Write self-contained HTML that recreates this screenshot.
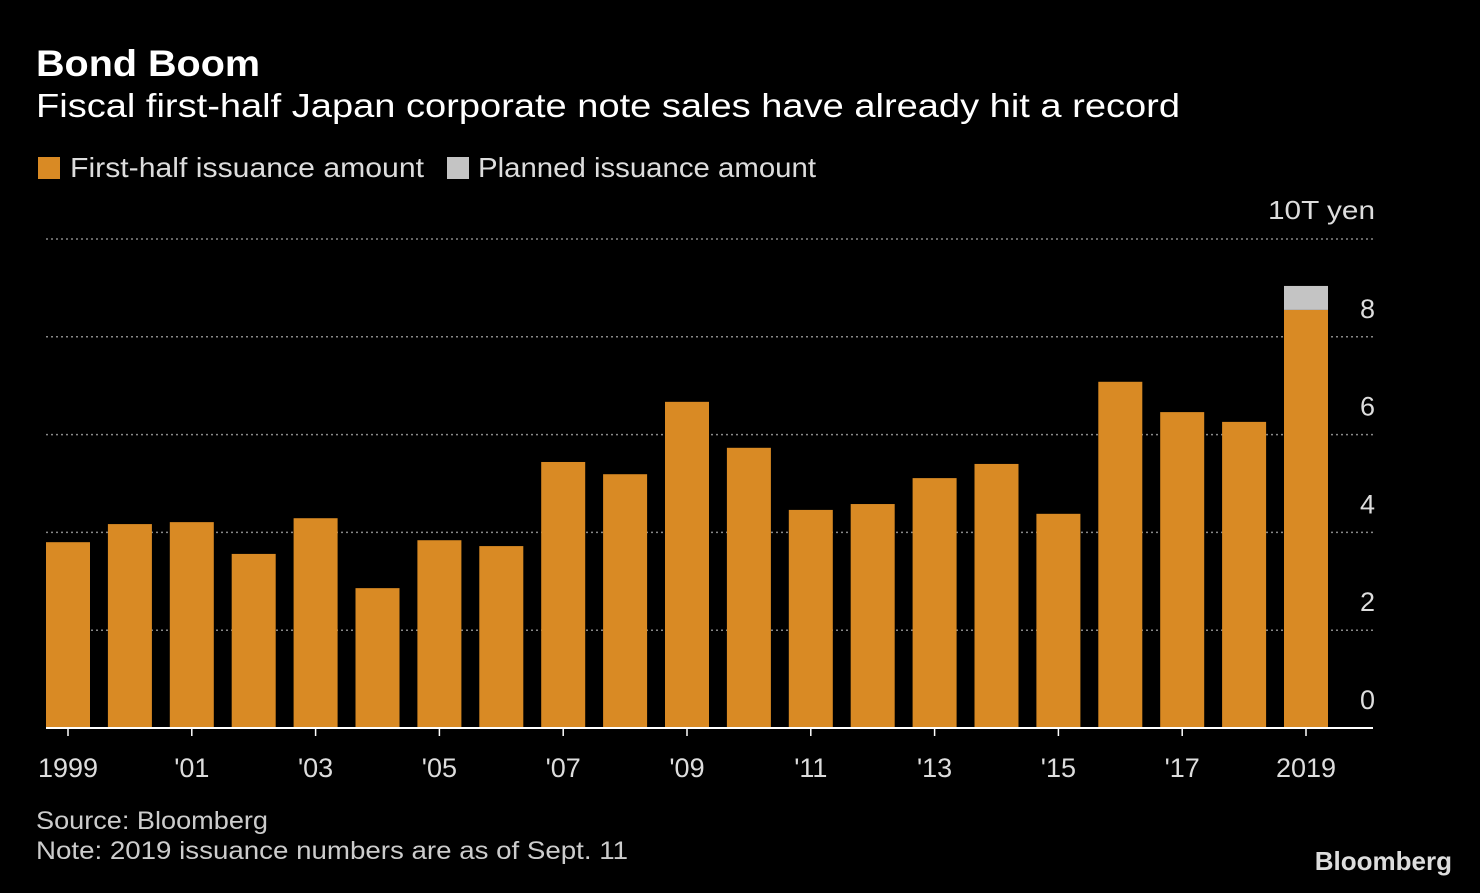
<!DOCTYPE html>
<html><head><meta charset="utf-8"><style>
body{margin:0;background:#000;width:1480px;height:888px;overflow:hidden;font-family:"Liberation Sans",sans-serif;color:#fff}
</style></head><body>
<svg width="1480" height="888" xmlns="http://www.w3.org/2000/svg">
<text x="36" y="76" font-size="37" font-weight="bold" fill="#fff" textLength="224" lengthAdjust="spacingAndGlyphs" font-family="Liberation Sans, sans-serif">Bond Boom</text>
<text x="36" y="117" font-size="33" fill="#fff" textLength="1144" lengthAdjust="spacingAndGlyphs" font-family="Liberation Sans, sans-serif">Fiscal first-half Japan corporate note sales have already hit a record</text>
<rect x="38" y="157" width="22" height="22" fill="#d98a24"/>
<text x="70" y="177" font-size="28" fill="#ddd" textLength="354" lengthAdjust="spacingAndGlyphs" font-family="Liberation Sans, sans-serif">First-half issuance amount</text>
<rect x="447" y="157" width="22" height="22" fill="#c4c4c4"/>
<text x="478" y="177" font-size="28" fill="#ddd" textLength="338" lengthAdjust="spacingAndGlyphs" font-family="Liberation Sans, sans-serif">Planned issuance amount</text>
<text x="1268" y="219" font-size="26" fill="#ddd" textLength="107" lengthAdjust="spacingAndGlyphs" font-family="Liberation Sans, sans-serif">10T yen</text>
<g id="grid"></g><g id="bars"></g><g id="xlabels"></g>
<line x1="46" y1="728" x2="1373" y2="728" stroke="#fff" stroke-width="2"/>
<text x="36" y="829" font-size="25" fill="#ccc" textLength="232" lengthAdjust="spacingAndGlyphs" font-family="Liberation Sans, sans-serif">Source: Bloomberg</text>
<text x="36" y="859" font-size="25" fill="#ccc" textLength="592" lengthAdjust="spacingAndGlyphs" font-family="Liberation Sans, sans-serif">Note: 2019 issuance numbers are as of Sept. 11</text>
<text x="1452" y="870" font-size="26" font-weight="bold" fill="#ddd" text-anchor="end" font-family="Liberation Sans, sans-serif">Bloomberg</text>
</svg>
<script>
const years=["1999","2000","2001","2002","2003","2004","2005","2006","2007","2008","2009","2010","2011","2012","2013","2014","2015","2016","2017","2018","2019"];
const firstHalf=[3.80,4.17,4.21,3.56,4.29,2.86,3.84,3.72,5.44,5.19,6.67,5.73,4.46,4.58,5.11,5.40,4.38,7.08,6.46,6.26,8.55];
const planned=[0,0,0,0,0,0,0,0,0,0,0,0,0,0,0,0,0,0,0,0,0.49];
const yTicks=[0,2,4,6,8,10];
const xLabels=["1999","","'01","","'03","","'05","","'07","","'09","","'11","","'13","","'15","","'17","","2019"];
const NS="http://www.w3.org/2000/svg";
const y0=728,pxPer=48.9,x0=46,step=61.9,bw=44;
const yS=v=>y0-v*pxPer, xS=i=>x0+i*step;
const grid=document.getElementById('grid'),bars=document.getElementById('bars'),xl=document.getElementById('xlabels');
function mk(tag,attrs,parent){const e=document.createElementNS(NS,tag);for(const k in attrs)e.setAttribute(k,attrs[k]);parent.appendChild(e);return e;}
yTicks.forEach(t=>{
  if(t>0){const l=mk('line',{x1:46,x2:1375,y1:yS(t),y2:yS(t),stroke:'#888','stroke-dasharray':'2,3','stroke-width':1.5},grid);
  
  }
  if(t<10){const tx=mk('text',{x:1375,y:yS(t)-19,'font-size':27,fill:'#ddd','text-anchor':'end','font-family':'Liberation Sans, sans-serif'},grid);tx.textContent=t;
  
  }
});
firstHalf.forEach((v,i)=>{
  const r=mk('rect',{x:xS(i),y:yS(v),width:bw,height:v*pxPer,fill:'#d98a24'},bars);
  
  
  if(planned[i]>0){const p=mk('rect',{x:xS(i),y:yS(v+planned[i]),width:bw,height:planned[i]*pxPer,fill:'#c4c4c4'},bars);
  
  }
  if(xLabels[i]){const t=mk('text',{x:xS(i)+bw/2,y:777,'font-size':27,fill:'#ddd','text-anchor':'middle','font-family':'Liberation Sans, sans-serif'},xl);t.textContent=xLabels[i];
  
  
  const tk=mk('line',{x1:xS(i)+bw/2,x2:xS(i)+bw/2,y1:728,y2:736,stroke:'#fff','stroke-width':1.5},xl);
  
  }
});
</script>
</body></html>
